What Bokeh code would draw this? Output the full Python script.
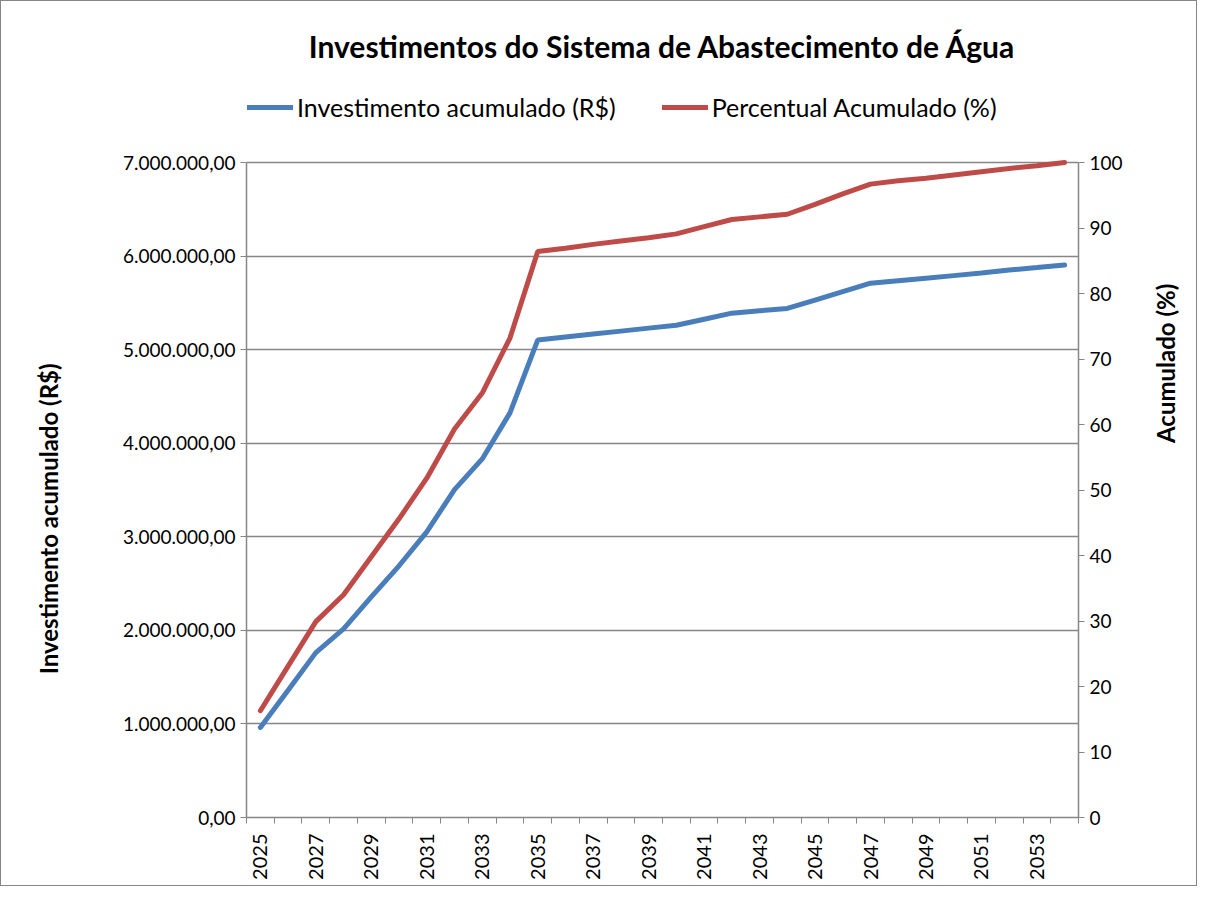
from bokeh.plotting import figure
from bokeh.models import (Range1d, LinearAxis, FixedTicker, CustomJSTickFormatter,
                          PrintfTickFormatter, Legend, LegendItem, ColumnDataSource)
from bokeh.embed import file_html
from bokeh.resources import INLINE
import math

years = list(range(2025, 2055))
investimento = [963000, 1360000, 1762000, 2016000, 2357000, 2690000, 3053000, 3504000,
                3832000, 4324000, 5102000, 5134000, 5166000, 5198000, 5230000, 5260000,
                5325000, 5390000, 5415000, 5440000, 5530000, 5620000, 5710000, 5737000,
                5764000, 5791000, 5818000, 5850000, 5877000, 5905000]
percentual = [16.3, 23.1, 29.9, 34.0, 39.8, 45.6, 51.8, 59.3, 64.8, 73.2, 86.4, 86.9,
              87.5, 88.0, 88.5, 89.1, 90.2, 91.3, 91.7, 92.1, 93.6, 95.2, 96.7, 97.2,
              97.6, 98.1, 98.6, 99.1, 99.5, 100.0]
left_ticks = [0, 1000000, 2000000, 3000000, 4000000, 5000000, 6000000, 7000000]
right_ticks = [0, 10, 20, 30, 40, 50, 60, 70, 80, 90, 100]
year_labels = [2025, 2027, 2029, 2031, 2033, 2035, 2037, 2039, 2041, 2043, 2045, 2047, 2049, 2051, 2053]

title = "Investimentos do Sistema de Abastecimento de Água"
name_inv = "Investimento acumulado (R$)"
name_pct = "Percentual Acumulado (%)"
name_right = "Acumulado (%)"

FONT = "Lato"
GREY = "#868686"
BLUE = "#4A7EBB"
RED = "#BE4B48"

# layout (pixels)
W, H = 1197, 886
F_LEFT, F_RIGHT, F_TOP, F_BOTTOM = 245, 1077, 67, 816
AX_TOP = 161  # pixel row of the top of the value axes
L_MAX, R_MAX = 7000000, 100
stretch = (F_BOTTOM - F_TOP) / (F_BOTTOM - AX_TOP)
PAD_L = "\u00a0" * 26  # shifts the left axis title down, onto the axis line

src = ColumnDataSource(dict(x=years, inv=investimento, pct=percentual))

p = figure(width=W, height=H, output_backend="svg", toolbar_location=None,
           x_range=Range1d(2024.5, 2054.5), y_range=Range1d(0, L_MAX * stretch),
           min_border_left=F_LEFT, min_border_right=W - F_RIGHT,
           min_border_top=F_TOP, min_border_bottom=H - F_BOTTOM,
           x_axis_location=None, y_axis_location=None)
p.extra_y_ranges = {"pct": Range1d(0, R_MAX * stretch)}
p.outline_line_color = None
p.background_fill_color = "white"
p.border_fill_color = "white"

p.title.text = title
p.title.align = "center"
p.title.text_font = FONT
p.title.text_font_size = "30px"
p.title.text_font_style = "bold"
p.title.text_color = "black"

xaxis = LinearAxis(ticker=FixedTicker(ticks=year_labels,
                                      minor_ticks=[y - 0.5 for y in years] + [2054.5]),
                   formatter=PrintfTickFormatter(format="%d"))
xaxis.major_label_orientation = math.pi / 2
xaxis.major_tick_line_color = None
xaxis.minor_tick_in = 0
xaxis.minor_tick_out = 6
xaxis.minor_tick_line_color = GREY
xaxis.axis_line_color = GREY
xaxis.axis_line_width = 1.5
xaxis.major_label_text_font = FONT
xaxis.major_label_text_font_size = "20px"
xaxis.major_label_text_color = "black"
xaxis.major_label_standoff = 10
p.add_layout(xaxis, "below")

fmt = CustomJSTickFormatter(code="""
const s = Math.abs(tick).toFixed(2);
const parts = s.split('.');
const ip = parts[0].replace(/\\B(?=(\\d{3})+(?!\\d))/g, '.');
return (tick < 0 ? '-' : '') + ip + ',' + parts[1];
""")
yaxis = LinearAxis(ticker=FixedTicker(ticks=left_ticks), formatter=fmt,
                   axis_label=name_inv + PAD_L, bounds=(0, L_MAX))
yaxis.major_tick_in = 0
yaxis.major_tick_out = 6
yaxis.minor_tick_line_color = None
yaxis.major_tick_line_color = GREY
yaxis.axis_line_color = GREY
yaxis.axis_line_width = 1.5
yaxis.major_label_text_font = FONT
yaxis.major_label_text_font_size = "19px"
yaxis.major_label_text_color = "black"
yaxis.axis_label_text_font = FONT
yaxis.axis_label_text_font_size = "24px"
yaxis.axis_label_text_font_style = "bold"
yaxis.axis_label_text_color = "black"
yaxis.axis_label_standoff = 57
p.add_layout(yaxis, "left")

raxis = LinearAxis(y_range_name="pct", ticker=FixedTicker(ticks=right_ticks),
                   axis_label=name_right, bounds=(0, R_MAX))
raxis.major_tick_in = 0
raxis.major_tick_out = 6
raxis.minor_tick_line_color = None
raxis.major_tick_line_color = GREY
raxis.axis_line_color = GREY
raxis.axis_line_width = 1.5
raxis.major_label_text_font = FONT
raxis.major_label_text_font_size = "19px"
raxis.major_label_text_color = "black"
raxis.axis_label_text_font = FONT
raxis.axis_label_text_font_size = "24px"
raxis.axis_label_text_font_style = "bold"
raxis.axis_label_text_color = "black"
raxis.axis_label_standoff = 40
raxis.axis_label_orientation = -3 * math.pi / 2
p.add_layout(raxis, "right")

p.xgrid.grid_line_color = None
p.ygrid.ticker = FixedTicker(ticks=left_ticks)
p.ygrid.grid_line_color = GREY
p.ygrid.grid_line_width = 1.5

r1 = p.line("x", "inv", source=src, line_color=BLUE, line_width=5, line_cap="round")
r2 = p.line("x", "pct", source=src, y_range_name="pct", line_color=RED, line_width=5,
            line_cap="round")

legend = Legend(items=[LegendItem(label=name_inv, renderers=[r1]),
                       LegendItem(label=name_pct, renderers=[r2])],
                orientation="horizontal", location=(1, F_BOTTOM - 121))
legend.label_text_font = FONT
legend.label_text_font_size = "25px"
legend.label_text_color = "black"
legend.glyph_width = 46
legend.glyph_height = 28
legend.label_height = 28
legend.label_standoff = 4
legend.spacing = 46
legend.border_line_color = None
legend.background_fill_alpha = 0
legend.margin = 0
legend.padding = 0
p.add_layout(legend, "center")

p.styles = {"border": "1px solid #868686"}

open("out.html", "w").write(file_html(p, INLINE))
